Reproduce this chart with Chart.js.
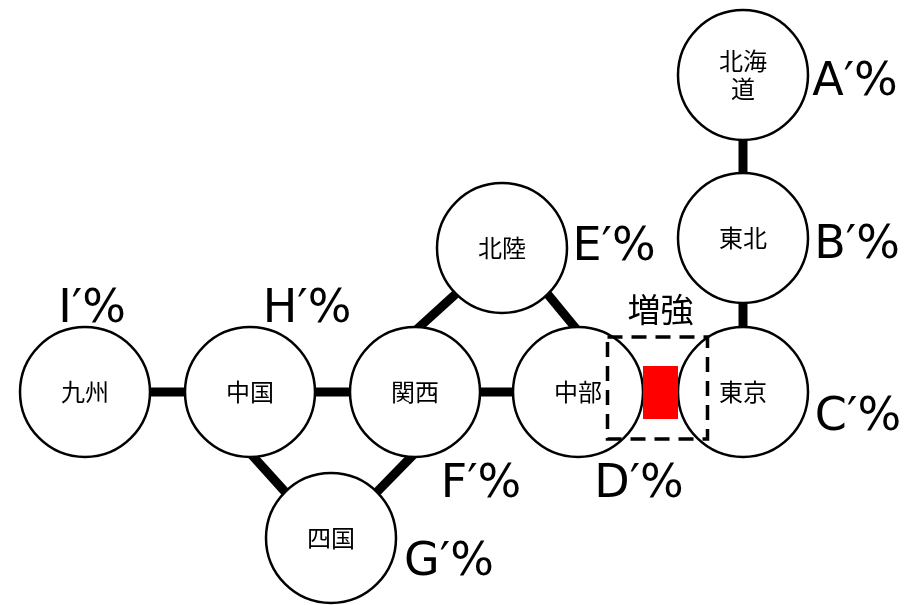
<!DOCTYPE html>
<html>
<head>
<meta charset="utf-8">
<script src="https://cdn.jsdelivr.net/npm/chart.js@4"></script>
<style>
  html, body { margin: 0; padding: 0; background: #fff; }
  #wrap { width: 914px; height: 605px; }
</style>
</head>
<body>
<div id="wrap"><canvas id="gridChart"></canvas></div>
<script>
// regions of the grid and where they sit on the map
const regions = ['北海道', '東北', '東京', '中部', '北陸', '関西', '中国', '四国', '九州'];
const regionX = [743, 743, 743, 578, 502, 415, 250, 331, 85];
const regionY = [75, 238, 392, 392, 248, 392, 392, 538, 392];
const shareLabels = ['A′%', 'B′%', 'C′%', 'D′%', 'E′%', 'F′%', 'H′%', 'G′%', 'I′%'];

// interconnections
const links = [
  ['北海道', '東北'], ['東北', '東京'], ['九州', '中国'], ['中国', '関西'], ['関西', '中部'],
  ['北陸', '関西'], ['北陸', '中部'], ['中国', '四国'], ['関西', '四国']
];
const reinforced = ['中部', '東京'];
const reinforcedLabel = '増強';

// drawing style
const R = 65;
const linkAngles = [[90, 270], [90, 270], [0, 180], [0, 180], [0, 180], [135, 270], [45, 270], [90, 225], [90, 315]];
const labelOffsets = [[112, 20], [114, 20], [115, 38], [61, 105], [112, 12], [66, 105], [57, -70], [118, 37], [7, -70]];

function edgePoint(name, deg) {
  const i = regions.indexOf(name);
  const a = deg * Math.PI / 180;
  return { x: regionX[i] + (R - 4) * Math.cos(a), y: regionY[i] + (R - 4) * Math.sin(a) };
}

const linkSets = links.map((l, k) => ({
  type: 'line',
  data: [edgePoint(l[0], linkAngles[k][0]), edgePoint(l[1], linkAngles[k][1])],
  borderColor: '#000',
  borderWidth: 9,
  borderCapStyle: 'butt',
  pointRadius: 0,
  showLine: true,
  clip: false,
  order: 2
}));

const textPlugin = {
  id: 'textPlugin',
  afterDatasetsDraw(chart) {
    const { ctx, scales: { x, y } } = chart;
    ctx.save();

    // reinforcement marker between 中部 and 東京
    const a = regions.indexOf(reinforced[0]);
    const b = regions.indexOf(reinforced[1]);
    const left = x.getPixelForValue(regionX[a]) + R;
    const right = x.getPixelForValue(regionX[b]) - R;
    const midY = y.getPixelForValue(regionY[a]);
    const midX = (left + right) / 2;
    ctx.fillStyle = '#ff0000';
    ctx.fillRect(left, midY - 26, right - left, 53);

    ctx.strokeStyle = '#000';
    ctx.lineWidth = 3.5;
    ctx.setLineDash([15, 9]);
    ctx.strokeRect(midX - 53, midY - 55, 100, 102);
    ctx.setLineDash([]);

    ctx.fillStyle = '#000';
    ctx.textAlign = 'center';
    ctx.textBaseline = 'middle';
    ctx.font = '33px "Noto Sans CJK JP"';
    ctx.fillText(reinforcedLabel, midX, midY - 83);

    // region names
    ctx.font = '24px "Noto Sans CJK JP"';
    regions.forEach((name, i) => {
      const px = x.getPixelForValue(regionX[i]);
      const py = y.getPixelForValue(regionY[i]);
      if (name.length > 2) {
        ctx.fillText(name.slice(0, 2), px, py - 14);
        ctx.fillText(name.slice(2), px, py + 14);
      } else {
        ctx.fillText(name, px, py);
      }
    });

    // share labels
    ctx.font = '46px "DejaVu Sans"';
    ctx.textBaseline = 'alphabetic';
    shareLabels.forEach((lab, i) => {
      const px = x.getPixelForValue(regionX[i] + labelOffsets[i][0]);
      const py = y.getPixelForValue(regionY[i] + labelOffsets[i][1]);
      ctx.fillText(lab, px, py);
    });
    ctx.restore();
  }
};

const chart = new Chart(document.getElementById('gridChart'), {
  type: 'bubble',
  data: {
    datasets: [{
      data: regions.map((n, i) => ({ x: regionX[i], y: regionY[i] })),
      radius: R,
      backgroundColor: '#fff',
      borderColor: '#000',
      borderWidth: 2.5,
      hoverRadius: 0,
      clip: false,
      order: 1
    }, ...linkSets]
  },
  options: {
    responsive: true,
    maintainAspectRatio: false,
    animation: false,
    layout: { padding: 0 },
    plugins: { legend: { display: false }, tooltip: { enabled: false } },
    events: [],
    scales: {
      x: { type: 'linear', min: 0, max: 914, display: false },
      y: { type: 'linear', min: 0, max: 605, reverse: true, display: false }
    }
  },
  plugins: [textPlugin]
});

// bubbles reserve room round the plot; make one unit equal one pixel
const area = chart.chartArea;
chart.options.scales.x.min = area.left;
chart.options.scales.x.max = area.right;
chart.options.scales.y.min = area.top;
chart.options.scales.y.max = area.bottom;
chart.update();
</script>
</body>
</html>
